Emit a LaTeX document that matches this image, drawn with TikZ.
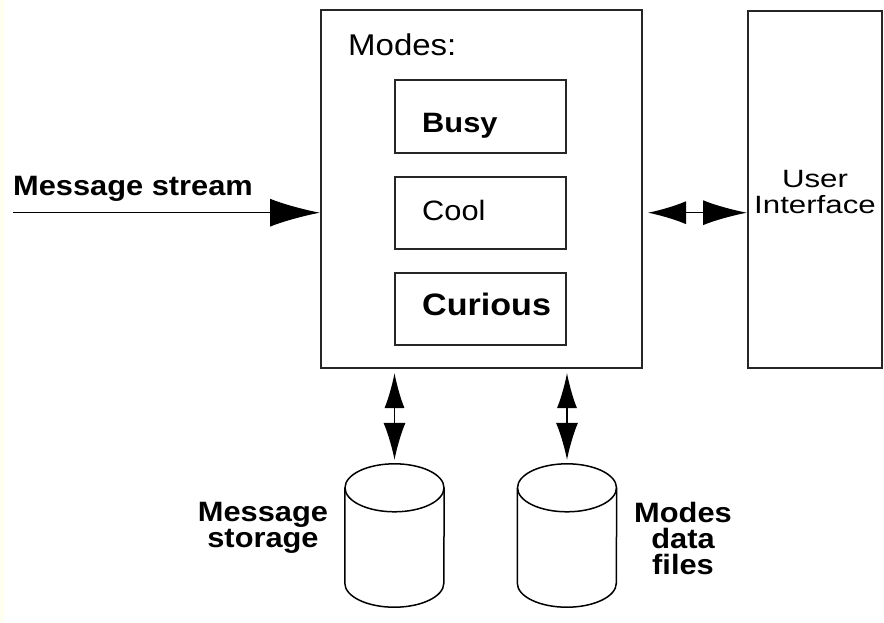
\documentclass[tikz,border=0pt]{standalone}
\usepackage{fontspec}
\setmainfont{Liberation Sans}[FakeStretch=1.1]
\newfontfamily\widefont{Liberation Sans}[FakeStretch=1.25]
\usetikzlibrary{arrows.meta,calc}
\definecolor{cream}{RGB}{255,255,240}
\tikzset{
  box/.style={draw=black!85, line width=2pt, inner sep=0pt},
  modebox/.style={draw=black!85, line width=1.8pt, inner sep=0pt, minimum width=171pt},
  store/.style={inner sep=0pt, minimum width=99pt, minimum height=143pt},
  drum/.style={draw=black, line width=1.5pt},
  link/.style={line width=1.5pt},
  txt/.style={inner sep=0pt, font=\fontsize{28}{25}\selectfont},
  lbl/.style={inner sep=0pt, align=center, anchor=north, font=\bfseries\fontsize{28}{26}\selectfont},
}
% outline of a disk drum around a named store node (rim half-height 24)
\newcommand\drumoutline[1]{%
  \draw[drum] ($(#1.north)+(0,24)$) ellipse[x radius=49.5, y radius=24];
  \draw[drum] ($(#1.north west)+(0,24)$) -- ($(#1.south west)+(0,-24)$)
    arc[start angle=180, end angle=0, x radius=49.5, y radius=24]
    -- ($(#1.north east)+(0,24)$);
}
\begin{document}
\begin{tikzpicture}[x=1pt,y=-1pt]
  % page and its narrow left strip
  \fill[white] (0,0) rectangle (884,622);
  \fill[cream] (0,0) rectangle (4,622);
  \useasboundingbox (0,0) rectangle (884,622);

  % processing block with its modes
  \node[box, minimum width=321pt, minimum height=358pt] (proc) at (481.5,189) {};
  \node[txt, anchor=base west, font=\fontsize{30}{30}\selectfont] (modes) at (348,55) {Modes:};
  \node[modebox, minimum height=73pt] (busy) at (480.5,116.5) {};
  \node[modebox, minimum height=72pt] (cool) at (480.5,213) {};
  \node[modebox, minimum height=72pt] (curious) at (480.5,309) {};
  \node[txt, anchor=base west, font=\bfseries\fontsize{28}{28}\selectfont] (busyT) at (422,132) {Busy};
  \node[txt, anchor=base west] (coolT) at (422,220) {Cool};
  \node[txt, anchor=base west, font=\bfseries\fontsize{31}{31}\selectfont] (curiousT) at (422,315) {Curious};

  % user interface block
  \node[box, minimum width=134pt, minimum height=357pt] (ui) at (815,189.3) {};
  \node[inner sep=0pt, align=center, anchor=north, font=\widefont\fontsize{25}{26}\selectfont] (uiT) at (815,170) {User\\Interface};

  % data stores
  \node[store] (msgs) at (394.5,535.5) {};
  \node[store] (mdata) at (567,535.5) {};
  \drumoutline{msgs}
  \drumoutline{mdata}
  \node[lbl] (msgsT) at (263,502) {Message\\storage};
  \node[lbl] (mdataT) at (683,502) {Modes\\data\\files};

  % incoming stream
  \coordinate (src) at (13,212.7);
  \node[txt, anchor=base west, font=\bfseries\fontsize{28}{28}\selectfont] (srcT) at (13,195) {Message stream};
  \draw[link, -{Latex[length=50pt,width=28pt]}] (src) -- (src -| proc.west);

  % exchange with the user interface
  \draw[link, {Latex[length=38pt,width=23pt]}-{Latex[length=44pt,width=25pt]}, shorten <=5pt]
    (proc.east |- src) -- (ui.west |- src);

  % exchange with the stores
  \draw[link, {Latex[length=35pt,width=20pt]}-{Latex[length=37pt,width=22pt]}, shorten <=4pt, shorten >=4pt]
    (msgs.north |- proc.south) -- (msgs.north);
  \draw[link, {Latex[length=35pt,width=20pt]}-{Latex[length=37pt,width=22pt]}, shorten <=4pt, shorten >=4pt]
    (mdata.north |- proc.south) -- (mdata.north);
\end{tikzpicture}
\end{document}
